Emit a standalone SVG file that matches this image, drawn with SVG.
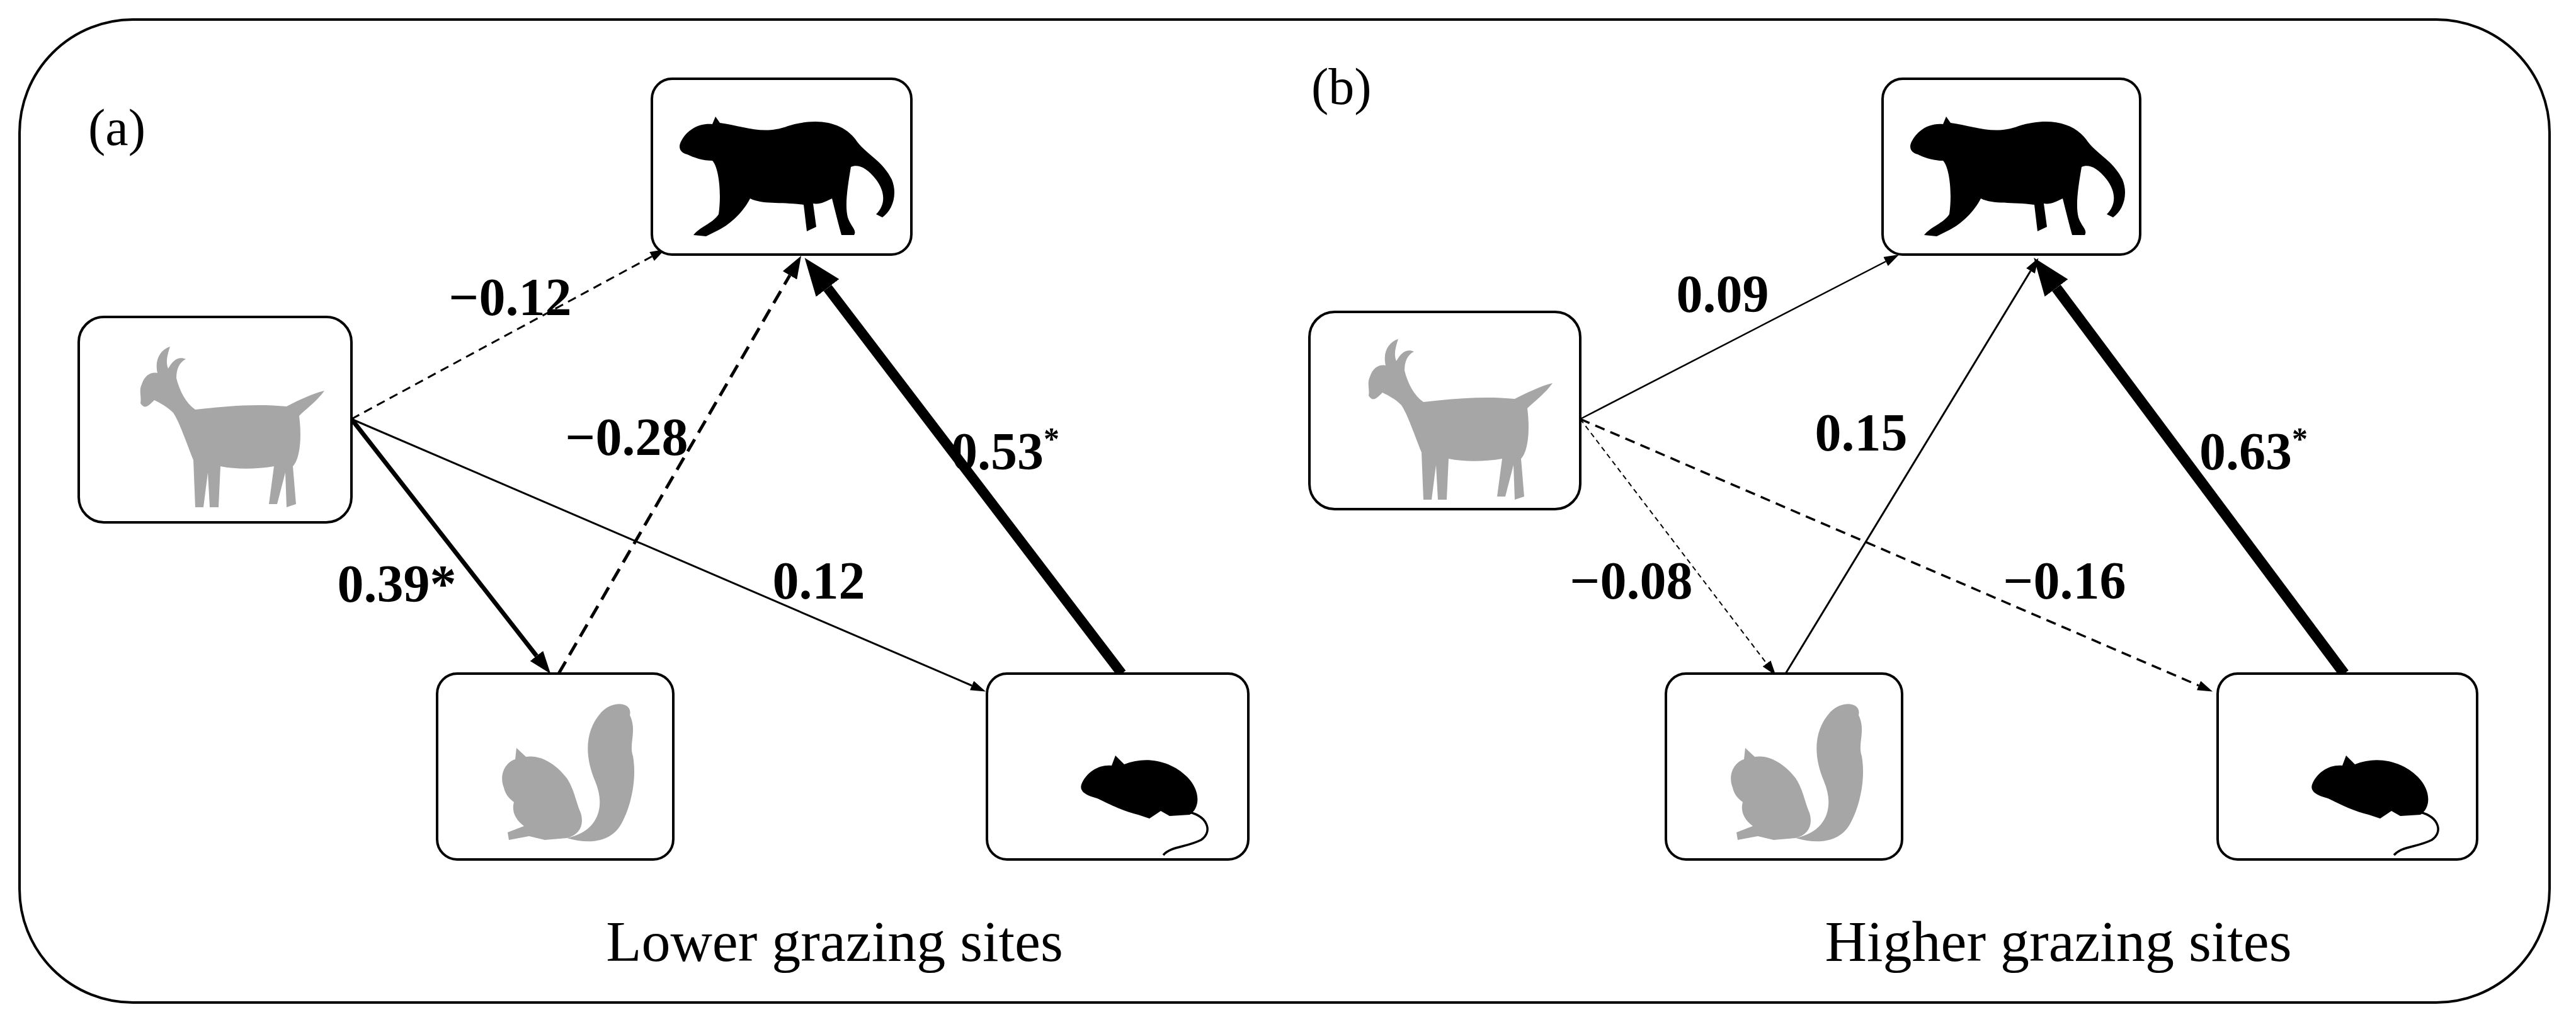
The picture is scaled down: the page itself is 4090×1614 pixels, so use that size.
<svg xmlns="http://www.w3.org/2000/svg" xmlns:xlink="http://www.w3.org/1999/xlink" width="4090" height="1614" viewBox="0 0 4090 1614">
<style>
.box{fill:#fff;stroke:#000;stroke-width:4}
.lbl{font-family:"Liberation Serif","Times New Roman",serif;font-weight:bold;font-size:84px;fill:#000}
.cap{font-family:"Liberation Serif","Times New Roman",serif;font-size:92px;fill:#000}
.pl{font-family:"Liberation Serif","Times New Roman",serif;font-size:82px;fill:#000}
.e{fill:none;stroke:#000}
</style>
<defs>
<marker id="ms" markerUnits="userSpaceOnUse" markerWidth="24" markerHeight="16" refX="0" refY="8" orient="auto"><path d="M0,0 L24,8 L0,16 Z"/></marker>
<marker id="mm" markerUnits="userSpaceOnUse" markerWidth="36" markerHeight="26" refX="0" refY="13" orient="auto"><path d="M0,0 L36,13 L0,26 Z"/></marker>
<marker id="ml" markerUnits="userSpaceOnUse" markerWidth="60" markerHeight="46" refX="0" refY="23" orient="auto"><path d="M0,0 L60,23 L0,46 Z"/></marker>
<g id="cat"><path fill="#000" d="M40,80 C50,60 70,50 90,52 L95,40 L102,50 C140,55 170,70 210,55 C260,40 300,50 320,80 C335,100 360,110 375,140 C385,165 375,190 360,200 L350,195 C365,180 365,160 350,140 C335,120 320,115 310,120 C305,150 300,180 305,200 C310,215 320,220 315,228 L295,228 C290,210 285,190 280,170 C270,175 260,180 250,178 L255,215 L240,222 L235,180 C200,175 170,180 150,170 C140,190 120,210 100,220 L80,230 L60,228 C70,215 90,210 100,195 C105,160 100,120 90,110 C75,110 60,105 50,100 C40,98 35,90 40,80 Z"/></g>
<g id="goat"><path fill="#a6a6a6" d="M90,100 C95,85 105,80 115,82 C110,60 120,45 135,40 C130,55 128,65 132,75 C140,60 150,55 160,60 C150,65 145,75 145,90 C150,110 160,130 175,140 C220,135 270,130 320,135 C340,125 360,115 380,110 C370,125 350,140 340,150 C345,190 340,220 330,230 L335,290 L320,295 L318,240 L305,290 L292,290 L300,230 C270,235 240,235 215,230 L212,295 L198,295 L195,240 L188,295 L175,295 L172,220 C160,190 150,160 140,145 C130,135 120,130 110,125 C100,135 95,140 88,130 C90,120 85,110 90,100 Z"/></g>
<g id="squirrel" fill="#a6a6a6"><path d="M100,175 C92,155 102,135 118,130 L120,112 L135,126 C160,122 185,140 200,160 C212,178 215,200 222,215 C228,235 220,250 200,255 L165,258 L140,252 L108,258 L106,246 L132,236 C118,226 112,212 116,198 C108,192 102,185 100,175 Z"/><path d="M200,255 C250,245 262,205 245,165 C228,125 228,85 255,55 C275,35 305,40 300,60 C312,85 298,105 305,125 C312,165 300,210 285,235 C268,262 235,265 200,255 Z"/></g>
<g id="rat"><path fill="#000" d="M150,170 C158,150 178,138 198,140 L204,124 L218,138 C252,124 292,132 318,158 C338,178 340,206 322,218 L290,220 L276,212 L258,224 L240,218 C214,212 188,198 175,192 C160,188 146,182 150,170 Z"/><path d="M322,214 C352,222 358,246 340,258 C316,270 292,268 280,282" fill="none" stroke="#000" stroke-width="3.5"/></g>
</defs>
<rect x="31" y="31" width="4017" height="1560" rx="180" fill="#fff" stroke="#000" stroke-width="4"/>
<text class="pl" x="140" y="230">(a)</text>
<text class="pl" x="2082" y="165">(b)</text>
<text class="cap" x="1325" y="1525" text-anchor="middle">Lower grazing sites</text>
<text class="cap" x="3268" y="1525" text-anchor="middle">Higher grazing sites</text>
<g id="connectors">
<line class="e" x1="558" y1="665" x2="1035" y2="407" stroke-width="3" stroke-dasharray="14 9" marker-end="url(#ms)"/>
<line class="e" x1="887" y1="1069" x2="1254" y2="437" stroke-width="5" stroke-dasharray="22 12" marker-end="url(#mm)"/>
<line class="e" x1="558" y1="665" x2="852" y2="1041" stroke-width="7" marker-end="url(#mm)"/>
<line class="e" x1="558" y1="665" x2="1543" y2="1088" stroke-width="3" marker-end="url(#ms)"/>
<line class="e" x1="1781" y1="1069" x2="1314" y2="457" stroke-width="16" marker-end="url(#ml)"/>
<line class="e" x1="2509" y1="665" x2="2994" y2="415" stroke-width="2.5" marker-end="url(#ms)"/>
<line class="e" x1="2835" y1="1069" x2="3224" y2="430" stroke-width="3" marker-end="url(#ms)"/>
<line class="e" x1="2509" y1="665" x2="2805" y2="1053" stroke-width="2" stroke-dasharray="8 6" marker-end="url(#ms)"/>
<line class="e" x1="2509" y1="665" x2="3491" y2="1088" stroke-width="3.5" stroke-dasharray="16 10" marker-end="url(#ms)"/>
<line class="e" x1="3722" y1="1069" x2="3265" y2="457" stroke-width="17" marker-end="url(#ml)"/>
</g>
<g id="a-cat"><rect class="box" x="1035" y="125" width="412" height="279" rx="32"/><use xlink:href="#cat" transform="translate(1041,145)"/></g>
<g id="a-goat"><rect class="box" x="125" y="503" width="433" height="326" rx="40"/><use xlink:href="#goat" transform="translate(135,510)"/></g>
<g id="a-squirrel"><rect class="box" x="694" y="1069" width="375" height="295" rx="32"/><use xlink:href="#squirrel" transform="translate(700,1075)"/></g>
<g id="a-rat"><rect class="box" x="1567" y="1069" width="415" height="295" rx="32"/><use xlink:href="#rat" transform="translate(1567,1075)"/></g>
<g id="b-cat"><rect class="box" x="2989" y="125" width="409" height="279" rx="32"/><use xlink:href="#cat" transform="translate(2995,145)"/></g>
<g id="b-goat"><rect class="box" x="2079" y="495" width="430" height="313" rx="40"/><use xlink:href="#goat" transform="translate(2085,498)"/></g>
<g id="b-squirrel"><rect class="box" x="2645" y="1069" width="375" height="295" rx="32"/><use xlink:href="#squirrel" transform="translate(2651,1075)"/></g>
<g id="b-rat"><rect class="box" x="3521" y="1069" width="412" height="295" rx="32"/><use xlink:href="#rat" transform="translate(3521,1075)"/></g>
<g id="labels">
<text class="lbl" x="810" y="500" text-anchor="middle">−0.12</text>
<text class="lbl" x="995" y="722" text-anchor="middle">−0.28</text>
<text class="lbl" x="630" y="955" text-anchor="middle">0.39*</text>
<text class="lbl" x="1300" y="950" text-anchor="middle">0.12</text>
<text class="lbl" x="1596" y="745" text-anchor="middle">0.53<tspan font-size="50" dy="-32">*</tspan></text>
<text class="lbl" x="2735" y="495" text-anchor="middle">0.09</text>
<text class="lbl" x="2955" y="715" text-anchor="middle">0.15</text>
<text class="lbl" x="2590" y="950" text-anchor="middle">−0.08</text>
<text class="lbl" x="3278" y="950" text-anchor="middle">−0.16</text>
<text class="lbl" x="3578" y="745" text-anchor="middle">0.63<tspan font-size="50" dy="-32">*</tspan></text>
</g>
</svg>
